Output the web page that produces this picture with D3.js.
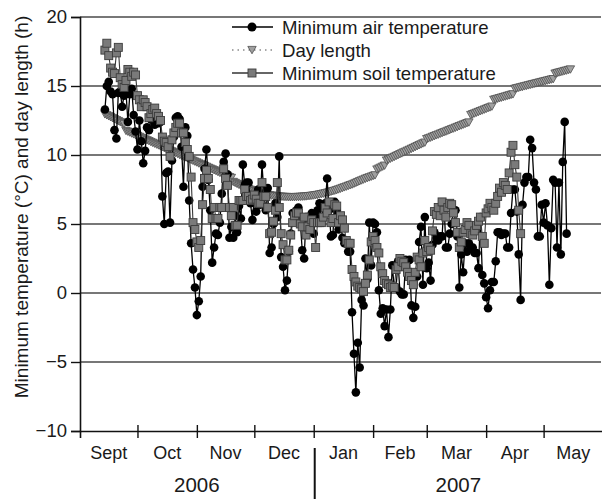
<!DOCTYPE html>
<html><head><meta charset="utf-8">
<script src="https://cdn.jsdelivr.net/npm/d3@7"></script>
<style>
body{margin:0;background:#fff;}
svg{display:block;font-family:"Liberation Sans",Arial,Helvetica,sans-serif;}
</style></head>
<body><svg id="c" width="602" height="499"></svg>
<script>
// ---- data (daily values) ----
const seriesStart = [2006, 8, 14]; // 14 Sept 2006 (year, monthIndex, day)
const seriesNames = ["Minimum air temperature", "Day length", "Minimum soil temperature"];
const monthLabels = ["Sept","Oct","Nov","Dec","Jan","Feb","Mar","Apr","May"];
const monthStarts = ["2006-09-01","2006-10-01","2006-11-01","2006-12-01","2007-01-01","2007-02-01","2007-03-01","2007-04-01","2007-05-01","2007-06-01"];
const yearLabels = ["2006","2007"];
const yTicks = [-10,-5,0,5,10,15,20];

const airTemp = [
 13.3,15.0,15.3,14.6,14.4,11.8,11.2,14.5,14.6,13.5,14.3,14.6,12.4,14.4,14.8,12.9,11.7,
 10.4,12.5,11.0,9.4,10.3,12.0,11.8,12.6,13.2,12.2,12.8,12.3,12.4,7.0,5.0,8.7,8.8,5.1,9.6,11.3,12.7,12.8,12.6,10.6,7.7,12.0,11.4,6.7,3.6,1.7,0.4,
 -1.6,-0.6,1.2,7.7,9.0,10.4,8.2,6.0,2.2,3.3,4.3,4.2,5.1,7.2,9.5,10.1,8.6,4.0,4.8,4.0,5.6,4.4,6.3,5.4,9.3,7.8,8.0,8.0,6.5,5.3,
 6.8,5.9,7.5,6.4,9.3,7.2,6.0,7.6,2.9,3.3,5.0,6.5,5.5,9.9,2.6,1.9,0.2,0.9,3.0,4.3,5.8,5.5,6.0,6.2,5.1,3.1,2.5,5.5,5.5,4.6,5.8,
 4.3,5.5,6.0,6.5,5.3,6.3,6.5,8.3,6.0,4.1,4.2,6.6,6.0,4.6,5.2,4.0,3.6,3.6,3.0,3.0,-1.4,-4.4,-7.2,-3.6,-5.4,-0.5,-0.9,2.5,1.0,5.1,2.0,
 5.1,5.0,4.4,0.2,-1.5,-1.1,-2.4,-1.2,-3.2,-1.2,2.0,0.4,0.4,2.3,0.1,-0.1,-0.1,2.4,1.5,2.4,-0.9,-1.8,-1.0,1.2,3.7,4.8,0.6,5.5,
 1.8,2.2,0.9,3.5,4.4,4.0,3.8,4.1,4.1,6.5,3.3,3.3,4.3,5.0,6.0,6.0,4.1,0.4,2.8,1.5,3.6,3.0,3.6,3.3,3.3,2.9,2.9,1.8,5.5,1.3,0.7,
 -0.3,-1.1,0.2,0.8,0.8,2.3,4.4,4.4,4.2,4.3,4.3,3.3,3.3,5.8,7.5,7.5,5.9,2.8,-0.5,6.4,8.0,8.4,8.4,11.1,10.5,8.0,7.5,4.1,4.1,6.4,
 5.1,6.5,4.9,0.6,4.7,8.2,8.0,3.3,8.0,2.8,9.5,12.4,4.3
];

const dayLength = [
 12.95,12.88,12.81,12.74,12.67,12.60,12.53,12.46,12.39,12.32,12.25,
 11.75,11.69,11.63,11.56,11.50,11.44,11.38,11.32,11.25,11.19,11.13,11.07,11.01,10.94,10.88,10.82,10.76,10.70,10.63,10.57,
 10.51,10.45,10.39,10.32,10.26,10.20,10.14,10.08,10.01,9.95,9.89,9.83,9.77,9.70,9.64,9.58,9.52,9.46,9.39,9.33,
 9.27,9.21,9.15,9.08,9.02,8.96,8.90,8.84,8.77,8.71,8.65,8.59,8.53,8.46,8.40,8.34,
 8.05,7.98,7.91,7.84,7.77,7.71,7.65,7.59,7.53,7.48,7.43,7.38,7.33,7.29,7.25,7.21,7.17,7.14,7.11,7.08,7.06,7.04,
 7.02,7.00,6.99,6.98,6.97,6.96,6.96,6.95,6.95,6.95,6.95,6.96,6.96,6.97,6.98,6.99,7.00,7.02,7.03,7.05,7.07,
 7.09,7.11,7.14,7.17,7.20,7.23,7.26,7.30,7.34,7.38,7.42,7.46,7.51,7.56,7.61,7.66,7.71,7.76,7.81,7.86,7.92,7.98,8.04,8.10,8.16,8.22,8.28,8.33,8.38,8.43,
 8.48,8.53,
 8.95,9.02,9.09,9.16,9.23,
 9.60,9.67,9.73,9.80,9.86,9.93,9.99,10.06,10.12,10.19,10.25,10.32,10.38,10.45,10.51,10.58,10.64,10.71,10.77,10.84,10.90,
 11.15,11.21,11.26,11.32,11.37,11.43,11.48,11.54,11.59,11.65,11.70,11.76,11.81,11.87,11.92,11.98,12.03,12.09,12.14,12.20,12.25,12.31,12.36,
 12.90,12.96,13.01,13.07,13.12,13.18,13.23,13.29,13.34,13.40,13.45,13.51,
 14.00,14.04,14.08,14.12,14.16,14.20,14.24,14.28,14.32,14.36,14.40,
 14.80,14.84,14.87,14.91,14.94,14.98,15.01,15.05,15.08,15.12,15.15,15.19,15.22,15.26,15.29,15.33,15.36,15.40,15.43,15.47,15.50,
 15.90,15.94,15.98,16.01,16.05,16.09,16.12,16.16,16.20
];

const soilTemp = [
 17.6,18.1,17.2,16.3,16.0,15.9,17.4,17.8,15.6,15.1,14.9,15.4,16.2,16.0,15.7,16.0,15.8,
 14.3,14.0,13.5,14.0,13.8,13.5,12.7,13.0,13.3,13.4,13.0,12.8,12.5,11.3,11.0,10.9,10.6,9.9,11.1,11.6,12.0,12.3,12.3,11.6,11.6,10.9,10.4,9.9,8.4,5.1,4.6,
 3.7,3.3,3.8,6.4,8.3,8.9,8.3,7.5,5.4,6.2,5.4,5.4,6.2,6.2,9.0,8.3,7.8,6.2,5.6,6.2,4.9,4.9,6.7,6.7,6.7,7.5,7.0,7.0,6.7,6.8,
 7.1,6.8,6.5,6.5,8.0,7.0,7.0,6.2,4.3,4.4,5.2,6.0,8.0,6.2,4.3,3.5,2.4,2.4,3.1,4.2,5.1,5.6,5.8,5.8,5.0,4.8,5.5,4.2,4.8,4.6,5.3,
 5.1,3.3,5.1,5.1,5.1,5.5,6.2,5.8,6.6,5.1,5.4,6.4,6.3,5.1,5.6,5.3,4.7,3.8,3.6,3.6,1.7,1.2,0.8,0.5,0.4,0.3,0.1,0.7,1.3,2.4,3.7,
 4.1,3.8,3.3,2.9,1.9,1.4,0.9,0.7,0.6,0.4,0.5,0.4,1.7,1.9,2.5,2.3,2.2,1.9,1.5,1.2,0.9,0.6,1.5,2.6,2.4,1.9,2.9,3.8,
 3.0,3.3,3.1,4.5,5.9,5.7,6.2,5.6,6.6,6.0,5.5,6.2,6.5,6.4,5.8,5.1,4.4,3.3,3.7,4.4,4.6,5.1,4.9,4.3,4.2,4.5,4.9,5.2,5.5,4.1,3.6,
 5.8,6.1,6.5,6.2,6.0,6.5,7.0,7.6,7.3,8.0,7.8,7.5,8.7,10.2,10.7,9.3,8.4,6.0,4.3
];

// ---- drawing ----
const svg = d3.select("#c");
const parse = d3.utcParse("%Y-%m-%d");
const t0 = new Date(Date.UTC(seriesStart[0], seriesStart[1], seriesStart[2]));
const toPts = arr => arr.map((v,i)=>({date: d3.utcDay.offset(t0, i), v}));
const air = toPts(airTemp), soil = toPts(soilTemp), dl = toPts(dayLength);

const x = d3.scaleUtc().domain([parse(monthStarts[0]), parse(monthStarts[monthStarts.length-1])]).range([80, 603]);
const y = d3.scaleLinear().domain([-10, 20]).range([431, 17]);
const textCol = "#1a1a1a";

// gridlines
svg.append("g").selectAll("line").data(yTicks.filter(d=>d>-10)).join("line")
  .attr("x1", x.range()[0]).attr("x2", 601)
  .attr("y1", d=>y(d)).attr("y2", d=>y(d))
  .attr("stroke", "#4a4a4a").attr("stroke-width", 1.4);

// y axis
const yAxis = svg.append("g").attr("transform", `translate(${x.range()[0]},0)`)
  .call(d3.axisLeft(y).tickValues(yTicks).tickSize(9).tickPadding(4));
yAxis.select(".domain").attr("stroke", "#111").attr("stroke-width", 1.6);
yAxis.selectAll(".tick line").attr("stroke", "#111").attr("stroke-width", 1.4);
yAxis.selectAll("text").attr("font-size", 18.5).attr("fill", textCol).attr("font-family", "Liberation Sans, Arial, sans-serif");

// x axis
const tickDates = monthStarts.slice(1, -1).map(parse);
const xAxis = svg.append("g").attr("transform", `translate(0,${y(-10)})`)
  .call(d3.axisBottom(x).tickValues(tickDates).tickFormat("").tickSizeOuter(0).tickSize(7));
xAxis.select(".domain").attr("stroke", "#111").attr("stroke-width", 1.6);
xAxis.selectAll(".tick line").attr("stroke", "#111").attr("stroke-width", 1.4).attr("y1", -6);

// month labels
const mDates = monthStarts.map(parse);
svg.append("g").selectAll("text").data(monthLabels).join("text")
  .attr("x", (d,i)=> (x(mDates[i]) + x(mDates[i+1]))/2)
  .attr("y", 459).attr("text-anchor", "middle")
  .attr("font-size", 18).attr("fill", textCol).text(d=>d);

// year labels and divider
const yearBounds = [[mDates[0], mDates[4]], [mDates[4], mDates[9]]];
svg.append("g").selectAll("text").data(yearLabels).join("text")
  .attr("x", (d,i)=> (x(yearBounds[i][0]) + x(yearBounds[i][1]))/2)
  .attr("y", 492).attr("text-anchor", "middle")
  .attr("font-size", 20.5).attr("fill", textCol).text(d=>d);
svg.append("line").attr("x1", x(mDates[4])+1).attr("x2", x(mDates[4])+1)
  .attr("y1", 448).attr("y2", 499).attr("stroke", "#111").attr("stroke-width", 2);

// y title
svg.append("text").attr("transform", "translate(28,207) rotate(-90)")
  .attr("text-anchor", "middle").attr("font-size", 19).attr("fill", textCol)
  .text("Minimum temperature (°C) and day length (h)");

// series
const line = d3.line().x(d=>x(d.date)).y(d=>y(d.v));
const triPath = "M-4.2,-3.6L4.2,-3.6L0,3.8Z";

// day length
svg.append("path").datum(dl).attr("d", line).attr("fill","none")
  .attr("stroke","#9a9a9a").attr("stroke-width",1).attr("stroke-dasharray","1,3");
svg.append("g").selectAll("path").data(dl).join("path")
  .attr("d", triPath).attr("transform", d=>`translate(${x(d.date)},${y(d.v)})`)
  .attr("fill","#a0a0a0").attr("stroke","#4e4e4e").attr("stroke-width",0.8);

// air
svg.append("path").datum(air).attr("d", line).attr("fill","none")
  .attr("stroke","#000").attr("stroke-width",1.3);
svg.append("g").selectAll("circle").data(air).join("circle")
  .attr("cx", d=>x(d.date)).attr("cy", d=>y(d.v)).attr("r", 4.3).attr("fill","#000");

// soil
svg.append("path").datum(soil).attr("d", line).attr("fill","none")
  .attr("stroke","#3a3a3a").attr("stroke-width",1.1);
svg.append("g").selectAll("rect").data(soil).join("rect")
  .attr("x", d=>x(d.date)-4).attr("y", d=>y(d.v)-4).attr("width",8).attr("height",8)
  .attr("fill","#7a7a7a").attr("stroke","#3c3c3c").attr("stroke-width",0.9);

// legend
const lg = svg.append("g");
const lgY = [27, 50, 73];
lg.append("line").attr("x1",232).attr("x2",273).attr("y1",lgY[0]).attr("y2",lgY[0]).attr("stroke","#000").attr("stroke-width",1.5);
lg.append("circle").attr("cx",252).attr("cy",lgY[0]).attr("r",4.5).attr("fill","#000");
lg.append("line").attr("x1",232).attr("x2",273).attr("y1",lgY[1]).attr("y2",lgY[1]).attr("stroke","#8a8a8a").attr("stroke-width",1.5).attr("stroke-dasharray","1.5,4");
lg.append("path").attr("d",triPath).attr("transform",`translate(252,${lgY[1]})`).attr("fill","#a0a0a0").attr("stroke","#4e4e4e").attr("stroke-width",0.8);
lg.append("line").attr("x1",232).attr("x2",273).attr("y1",lgY[2]).attr("y2",lgY[2]).attr("stroke","#333").attr("stroke-width",1.5);
lg.append("rect").attr("x",248).attr("y",lgY[2]-4).attr("width",8).attr("height",8).attr("fill","#7a7a7a").attr("stroke","#3c3c3c").attr("stroke-width",0.9);
lg.selectAll("text").data(seriesNames).join("text")
  .attr("x", 282).attr("y", (d,i)=>lgY[i]+6.5).attr("font-size", 18.6).attr("fill", textCol).text(d=>d);
</script></body></html>
